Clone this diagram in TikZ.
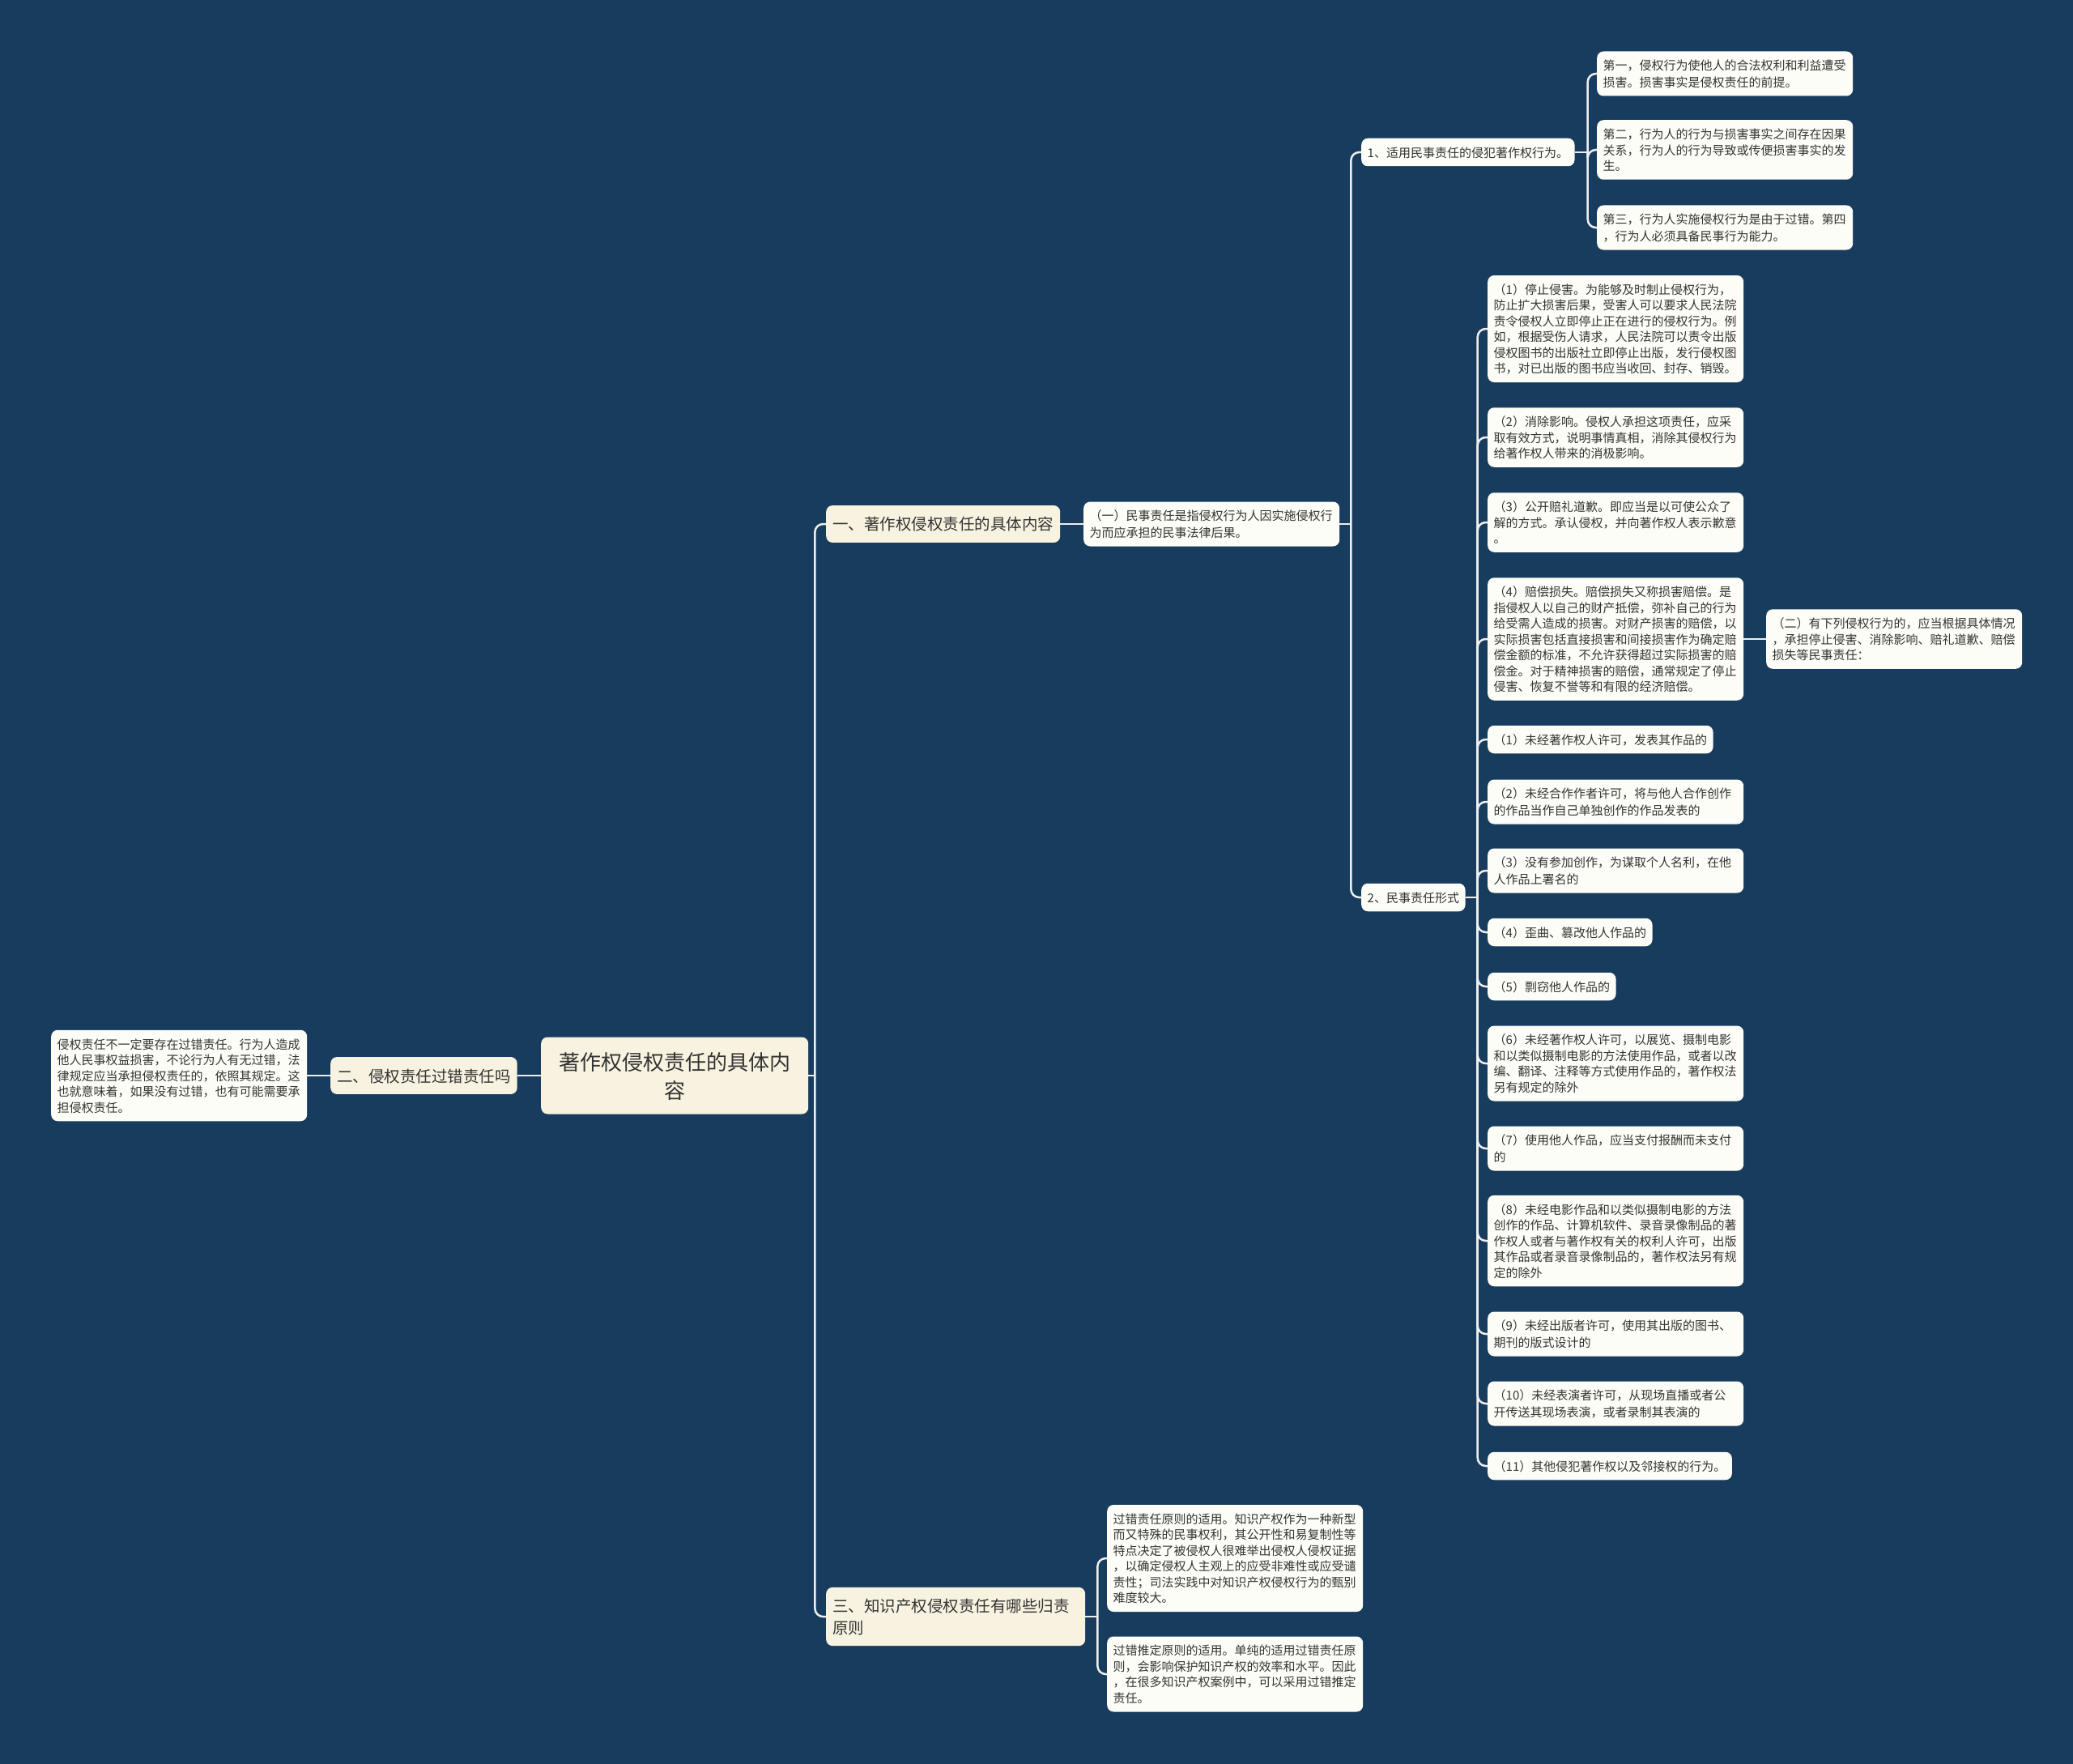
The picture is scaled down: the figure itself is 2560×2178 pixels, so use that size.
\documentclass[tikz,border=0pt]{standalone}
\usepackage{fontspec}
\newfontfamily\cjk{Noto Sans CJK SC}
\definecolor{bgc}{RGB}{24,60,94}
\definecolor{cream}{RGB}{248,243,224}
\definecolor{leafc}{RGB}{253,253,247}
\definecolor{txt}{RGB}{51,51,51}
\definecolor{linec}{RGB}{238,238,238}
\newcommand\mystrut{\rule[-0.24em]{0pt}{1.3em}}
\pgfdeclarelayer{back}
\pgfsetlayers{back,main}
\tikzset{
  box/.style={rounded corners=8pt, text=txt, anchor=west, inner xsep=7.5pt,
    execute at begin node=\mystrut, execute at end node=\mystrut},
  leaf/.style={box, fill=leafc, inner ysep=7.5pt, align=left, font=\cjk\fontsize{15}{19.5}\selectfont},
  wleaf/.style={leaf, text width=301pt},
  head/.style={box, fill=cream, inner xsep=8pt, inner ysep=10.3pt, align=left, font=\cjk\fontsize{19.5}{25.35}\selectfont},
  rootbox/.style={box, fill=cream, inner xsep=12pt, inner ysep=13.2pt, align=center, text width=306pt, font=\cjk\fontsize{26}{33.8}\selectfont},
  conn/.style={draw=linec, line width=2.5pt},
  branch/.style={conn, rounded corners=10pt},
}
\begin{document}
\begin{tikzpicture}[x=1pt,y=-1pt]
\begin{pgfonlayer}{back}
\fill[bgc] (0,0) rectangle (2560,2178);
\end{pgfonlayer}
\useasboundingbox (0,0) rectangle (2560,2178);

% root and left branch
\node[rootbox] (root) at (668,1328) {著作权侵权责任的具体内\\容};
\node[head] (h2) at (408,1328) {二、侵权责任过错责任吗};
\node[wleaf] (l2) at (63,1328) {侵权责任不一定要存在过错责任。行为人造成\\他人民事权益损害，不论行为人有无过错，法\\律规定应当承担侵权责任的，依照其规定。这\\也就意味着，如果没有过错，也有可能需要承\\担侵权责任。};

% first heading
\node[head] (h1) at (1020,647) {一、著作权侵权责任的具体内容};
\node[wleaf] (s1) at (1338,647) {（一）民事责任是指侵权行为人因实施侵权行\\为而应承担的民事法律后果。};
\node[leaf] (a1) at (1681,188) {1、适用民事责任的侵犯著作权行为。};
\node[wleaf] (d1) at (1972,91) {第一，侵权行为使他人的合法权利和利益遭受\\损害。损害事实是侵权责任的前提。};
\node[wleaf] (d2) at (1972,185) {第二，行为人的行为与损害事实之间存在因果\\关系，行为人的行为导致或传便损害事实的发\\生。};
\node[wleaf] (d3) at (1972,281) {第三，行为人实施侵权行为是由于过错。第四\\，行为人必须具备民事行为能力。};
\node[leaf] (a2) at (1681,1108) {2、民事责任形式};

\node[wleaf] (f1) at (1837,406) {（1）停止侵害。为能够及时制止侵权行为，\\防止扩大损害后果，受害人可以要求人民法院\\责令侵权人立即停止正在进行的侵权行为。例\\如，根据受伤人请求，人民法院可以责令出版\\侵权图书的出版社立即停止出版，发行侵权图\\书，对已出版的图书应当收回、封存、销毁。};
\node[wleaf] (f2) at (1837,540) {（2）消除影响。侵权人承担这项责任，应采\\取有效方式，说明事情真相，消除其侵权行为\\给著作权人带来的消极影响。};
\node[wleaf] (f3) at (1837,645) {（3）公开赔礼道歉。即应当是以可使公众了\\解的方式。承认侵权，并向著作权人表示歉意\\。};
\node[wleaf] (f4) at (1837,789) {（4）赔偿损失。赔偿损失又称损害赔偿。是\\指侵权人以自己的财产抵偿，弥补自己的行为\\给受需人造成的损害。对财产损害的赔偿，以\\实际损害包括直接损害和间接损害作为确定赔\\偿金额的标准，不允许获得超过实际损害的赔\\偿金。对于精神损害的赔偿，通常规定了停止\\侵害、恢复不誉等和有限的经济赔偿。};
\node[wleaf] (g2) at (2181,789) {（二）有下列侵权行为的，应当根据具体情况\\，承担停止侵害、消除影响、赔礼道歉、赔偿\\损失等民事责任：};

\node[leaf] (e1) at (1837,913) {（1）未经著作权人许可，发表其作品的};
\node[wleaf] (e2) at (1837,990) {（2）未经合作作者许可，将与他人合作创作\\的作品当作自己单独创作的作品发表的};
\node[wleaf] (e3) at (1837,1075) {（3）没有参加创作，为谋取个人名利，在他\\人作品上署名的};
\node[leaf] (e4) at (1837,1151) {（4）歪曲、篡改他人作品的};
\node[leaf] (e5) at (1837,1218) {（5）剽窃他人作品的};
\node[wleaf] (e6) at (1837,1313) {（6）未经著作权人许可，以展览、摄制电影\\和以类似摄制电影的方法使用作品，或者以改\\编、翻译、注释等方式使用作品的，著作权法\\另有规定的除外};
\node[wleaf] (e7) at (1837,1418) {（7）使用他人作品，应当支付报酬而未支付\\的};
\node[wleaf] (e8) at (1837,1532) {（8）未经电影作品和以类似摄制电影的方法\\创作的作品、计算机软件、录音录像制品的著\\作权人或者与著作权有关的权利人许可，出版\\其作品或者录音录像制品的，著作权法另有规\\定的除外};
\node[wleaf] (e9) at (1837,1647) {（9）未经出版者许可，使用其出版的图书、\\期刊的版式设计的};
\node[wleaf] (e10) at (1837,1733) {（10）未经表演者许可，从现场直播或者公\\开传送其现场表演，或者录制其表演的};
\node[leaf] (e11) at (1837,1810) {（11）其他侵犯著作权以及邻接权的行为。};

% third heading
\node[head, text width=304pt] (h3) at (1020,1996) {三、知识产权侵权责任有哪些归责\\原则};
\node[wleaf] (p1) at (1367,1924) {过错责任原则的适用。知识产权作为一种新型\\而又特殊的民事权利，其公开性和易复制性等\\特点决定了被侵权人很难举出侵权人侵权证据\\，以确定侵权人主观上的应受非难性或应受谴\\责性；司法实践中对知识产权侵权行为的甄别\\难度较大。};
\node[wleaf] (p2) at (1367,2067) {过错推定原则的适用。单纯的适用过错责任原\\则，会影响保护知识产权的效率和水平。因此\\，在很多知识产权案例中，可以采用过错推定\\责任。};

\begin{pgfonlayer}{back}
\draw[conn] (root.west) -- (h2.west -| h2.east);
\draw[conn] (h2.west) -- (l2.east);
\draw[conn] (root.east) -- ++(8,0) coordinate (rj);
\draw[branch] (rj) |- (h1.west);
\draw[branch] (rj) |- (h3.west);
\draw[conn] (h1.east) -- (s1.west);
\draw[conn] (s1.east) -- ++(14,0) coordinate (aj);
\draw[branch] (aj) |- (a1.west);
\draw[branch] (aj) |- (a2.west);
\draw[conn] (a1.east) -- ++(16,0) coordinate (bj);
\foreach \n in {d1,d2,d3} \draw[branch] (bj) |- (\n.west);
\draw[conn] (a2.east) -- ++(15,0) coordinate (cj);
\foreach \n in {f1,f2,f3,f4,e1,e2,e3,e4,e5,e6,e7,e8,e9,e10,e11} \draw[branch] (cj) |- (\n.west);
\draw[conn] (f4.east) -- (g2.west);
\draw[conn] (h3.east) -- ++(15,0) coordinate (dj);
\draw[branch] (dj) |- (p1.west);
\draw[branch] (dj) |- (p2.west);
\end{pgfonlayer}
\end{tikzpicture}
\end{document}
